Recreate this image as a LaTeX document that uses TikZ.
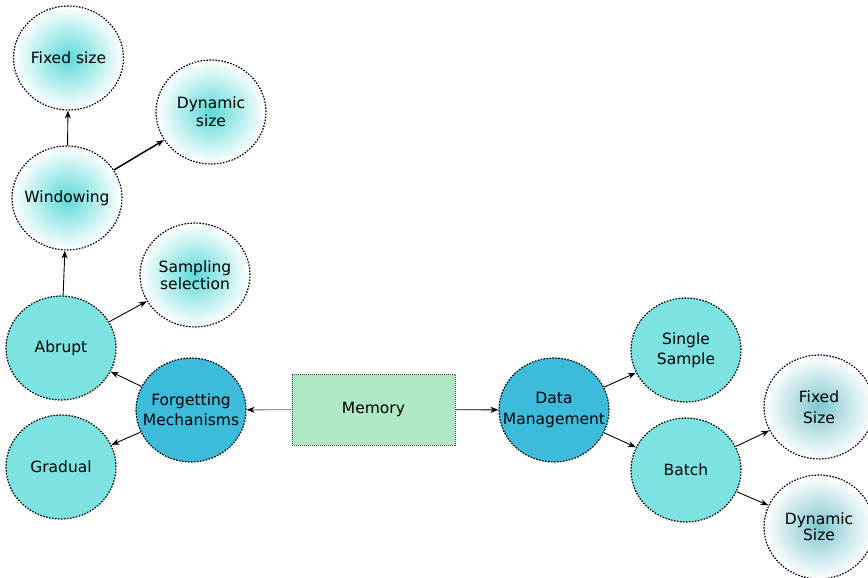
\documentclass[tikz,border=0pt]{standalone}
\usepackage{fontspec}
\setmainfont{DejaVu Sans}
\usetikzlibrary{shapes.geometric,arrows.meta}

\definecolor{turq}{HTML}{7DE3E0}
\definecolor{deepblue}{HTML}{3DBBDB}
\definecolor{memgreen}{HTML}{AEE8C4}
\definecolor{glowleft}{HTML}{5CD9D8}
\definecolor{glowright}{HTML}{80C6D0}

\tikzset{
  bubble/.style={ellipse, minimum width=110pt, minimum height=104pt,
    inner sep=0pt, draw=black, line width=1.2pt,
    dash pattern=on 1.6pt off 1.4pt},
  solidfill/.style={bubble, fill=#1},
  glow/.style={bubble, shade, shading=radial, inner color=#1, outer color=white},
  lbl/.style={align=center, inner sep=0pt, font=\fontsize{15.5}{#1}\selectfont},
  lbl/.default=18,
  membox/.style={rectangle, minimum width=163pt, minimum height=71pt,
    fill=memgreen, draw=black!75, line width=0.8pt,
    dash pattern=on 1pt off 1pt, font=\fontsize{15.5}{18}\selectfont},
  link/.style={-{Stealth[length=8pt,width=6pt,inset=2.5pt,color=black]}, line width=0.9pt, black}
}

\begin{document}
\begin{tikzpicture}[x=1pt, y=-1pt]
\useasboundingbox (0,0) rectangle (868,578);

% central store
\node[membox] (mem) at (373.5,409.5) {Memory};

% forgetting branch
\node[solidfill=deepblue, label={[lbl=20]center:Forgetting\\Mechanisms}] (forget) at (191,410) {};
\node[solidfill=turq, label={[lbl]center:Abrupt}] (abrupt) at (61,348) {};
\node[solidfill=turq, label={[lbl]center:Gradual}] (gradual) at (61,467) {};
\node[glow=glowleft, label={[lbl=17]center:Sampling\\selection}] (sampling) at (195,275) {};
\node[glow=glowleft, label={[lbl]center:Windowing}] (window) at (67,198) {};
\node[glow=glowleft, label={[lbl]center:Fixed size}] (wfixed) at (68.5,58) {};
\node[glow=glowleft, label={[lbl]center:Dynamic\\size}] (wdyn) at (211,112) {};

% data management branch
\node[solidfill=deepblue, label={[lbl=21]center:Data\\Management}] (dm) at (554,410) {};
\node[solidfill=turq, label={[lbl=20]center:Single\\Sample}] (single) at (686,350) {};
\node[solidfill=turq, label={[lbl]center:Batch}] (batch) at (686,470) {};
\node[glow=glowright, label={[lbl=21]center:Fixed\\Size}] (bfixed) at (819,407) {};
\node[glow=glowright, label={[lbl=14]center:Dynamic\\Size}] (bdyn) at (819,527) {};

% connectors
\draw[link, draw=black!60] (mem) -- (forget);
\draw[link] (mem) -- (dm);
\draw[link] (forget) -- (abrupt);
\draw[link] (forget) -- (gradual);
\draw[link] (abrupt) -- (sampling);
\draw[link] (abrupt) -- (window);
\draw[link] (window) -- (wfixed);
\draw[link, line width=1.5pt] (window) -- (wdyn);
\draw[link] (dm) -- (single);
\draw[link] (dm) -- (batch);
\draw[link] (batch) -- (bfixed);
\draw[link] (batch) -- (bdyn);
\end{tikzpicture}
\end{document}
